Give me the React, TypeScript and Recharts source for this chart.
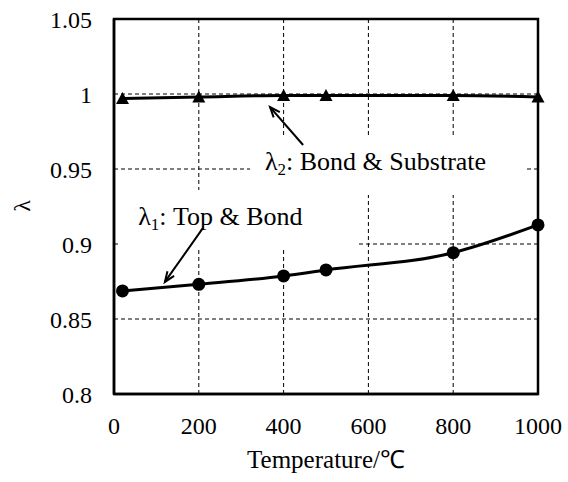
import React from "react";
import { LineChart, Line, XAxis, YAxis, CartesianGrid, ReferenceArea, ReferenceLine, ReferenceDot, Label } from "recharts";

const temps = [20, 200, 400, 500, 800, 1000];
const lambda1 = [0.8687, 0.8731, 0.8787, 0.8827, 0.8942, 0.9127];
const lambda2 = [0.997, 0.998, 0.999, 0.999, 0.999, 0.998];
const xTicks = [0, 200, 400, 600, 800, 1000];
const yTicks = [0.8, 0.85, 0.9, 0.95, 1, 1.05];

const rows = temps.map((t, i) => ({ t, l1: lambda1[i], l2: lambda2[i] }));

const FONT = "Liberation Serif";

const triangle = (p: any) => {
  const { cx, cy, index } = p;
  return <polygon key={`tri-${index}`} points={`${cx - 6.5},${cy + 5.5} ${cx + 6.5},${cy + 5.5} ${cx},${cy - 6.5}`} fill="#000" />;
};

const arrow = (p: any) => {
  const { x1, y1, x2, y2 } = p;
  // tail at (x1,y1), tip at (x2,y2)
  const a = Math.atan2(y2 - y1, x2 - x1);
  const len = 11;
  const w = 0.38;
  const h1 = `${x2 - len * Math.cos(a - w)},${y2 - len * Math.sin(a - w)}`;
  const h2 = `${x2 - len * Math.cos(a + w)},${y2 - len * Math.sin(a + w)}`;
  return (
    <g>
      <line x1={x1} y1={y1} x2={x2} y2={y2} stroke="#000" strokeWidth={2} />
      <polyline points={`${h1} ${x2},${y2} ${h2}`} fill="none" stroke="#000" strokeWidth={2} />
    </g>
  );
};

const note = (sub: string, rest: string) => (p: any) => (
  <text x={p.cx} y={p.cy} fontFamily={FONT} fontSize={26} fill="#000">
    λ<tspan fontSize={17} dy={5}>{sub}</tspan>
    <tspan dy={-5}>{rest}</tspan>
  </text>
);

export default function App() {
  return (
    <div style={{ position: "absolute", left: 0, top: 0, background: "#fff" }}>
      <LineChart width={568} height={482} data={rows} margin={{ top: 19, right: 30, bottom: 28, left: 0 }}>
        <CartesianGrid stroke="#000" strokeWidth={1} strokeDasharray="4 3" />
        <XAxis
          dataKey="t"
          type="number"
          domain={[0, 1000]}
          ticks={xTicks}
          height={60}
          tickSize={0}
          tickMargin={23}
          axisLine={{ stroke: "#000", strokeWidth: 2.5 }}
          tick={{ fill: "#000", fontSize: 24, fontFamily: FONT }}
        >
          <Label
            content={() => (
              <text x={326} y={468} textAnchor="middle" fontFamily={FONT} fontSize={25} fill="#000">
                Temperature/℃
              </text>
            )}
          />
        </XAxis>
        <YAxis
          type="number"
          domain={[0.8, 1.05]}
          ticks={yTicks}
          width={114}
          tickSize={0}
          tickMargin={22}
          axisLine={{ stroke: "#000", strokeWidth: 2.5 }}
          tick={{ fill: "#000", fontSize: 24, fontFamily: FONT }}
        >
          <Label
            content={() => (
              <text x={30} y={206} transform="rotate(-90 30 206)" textAnchor="middle" fontFamily={FONT} fontSize={24} fill="#000">
                λ
              </text>
            )}
          />
        </YAxis>
        <ReferenceArea x1={321} x2={974} y1={0.9327} y2={0.9727} fill="#fff" fillOpacity={1} stroke="none" />
        <ReferenceArea x1={9.4} x2={575} y1={0.896} y2={0.936} fill="#fff" fillOpacity={1} stroke="none" />
        <ReferenceArea x1={0} x2={1000} y1={0.8} y2={1.05} fill="none" stroke="#000" strokeWidth={2.5} />
        <ReferenceLine segment={[{ x: 446, y: 0.966 }, { x: 368, y: 0.9913 }]} shape={arrow} />
        <ReferenceLine segment={[{ x: 210, y: 0.9107 }, { x: 120, y: 0.8747 }]} shape={arrow} />
        <ReferenceDot x={356} y={0.9493} r={0} shape={note("2", ": Bond & Substrate")} />
        <ReferenceDot x={57} y={0.9127} r={0} shape={note("1", ": Top & Bond")} />
        <Line
          type="monotone"
          dataKey="l2"
          stroke="#000"
          strokeWidth={3}
          dot={triangle}
          activeDot={false}
          isAnimationActive={false}
        />
        <Line
          type="monotone"
          dataKey="l1"
          stroke="#000"
          strokeWidth={3}
          dot={{ r: 6.5, fill: "#000", stroke: "none" }}
          activeDot={false}
          isAnimationActive={false}
        />
      </LineChart>
    </div>
  );
}
